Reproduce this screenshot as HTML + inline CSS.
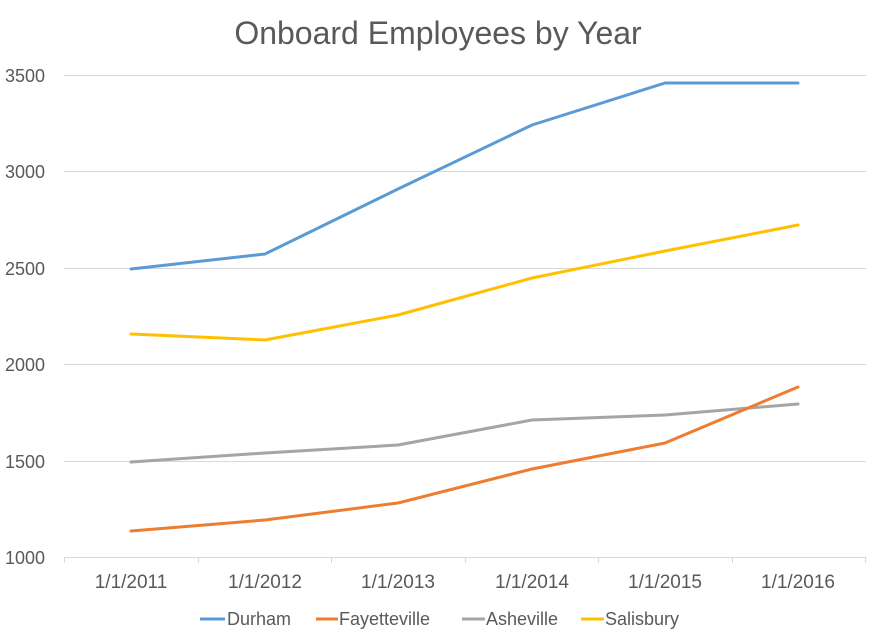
<!DOCTYPE html>
<html><head><meta charset="utf-8"><style>
body{margin:0;background:#fff}
svg text{font-family:"Liberation Sans",sans-serif;fill:#595959}
</style></head><body>
<svg width="880" height="636" viewBox="0 0 880 636" xmlns="http://www.w3.org/2000/svg">
<rect width="880" height="636" fill="#fff"/>
<text x="438" y="44" font-size="32" text-anchor="middle">Onboard Employees by Year</text>
<g stroke="#d9d9d9" stroke-width="1">
<line x1="64" x2="866" y1="75.5" y2="75.5"/>
<line x1="64" x2="866" y1="171.5" y2="171.5"/>
<line x1="64" x2="866" y1="268.5" y2="268.5"/>
<line x1="64" x2="866" y1="364.5" y2="364.5"/>
<line x1="64" x2="866" y1="461.5" y2="461.5"/>
<line x1="64" x2="866" y1="557.5" y2="557.5"/>
<line x1="64.5" x2="64.5" y1="557" y2="563"/>
<line x1="198.5" x2="198.5" y1="557" y2="563"/>
<line x1="331.5" x2="331.5" y1="557" y2="563"/>
<line x1="465.5" x2="465.5" y1="557" y2="563"/>
<line x1="598.5" x2="598.5" y1="557" y2="563"/>
<line x1="732.5" x2="732.5" y1="557" y2="563"/>
<line x1="865.5" x2="865.5" y1="557" y2="563"/>
</g>
<g font-size="18">
<text x="5" y="82">3500</text><text x="5" y="178">3000</text><text x="5" y="275">2500</text>
<text x="5" y="371">2000</text><text x="5" y="468">1500</text><text x="5" y="564">1000</text>
</g>
<g font-size="19" text-anchor="middle">
<text x="131" y="588">1/1/2011</text><text x="265" y="588">1/1/2012</text><text x="398" y="588">1/1/2013</text>
<text x="532" y="588">1/1/2014</text><text x="665" y="588">1/1/2015</text><text x="798" y="588">1/1/2016</text>
</g>
<g fill="none" stroke-width="3" stroke-linejoin="round" stroke-linecap="round">
<polyline stroke="#5b9bd5" points="131,269 265,254 398,189 532,125 665,83 798,83"/>
<polyline stroke="#ffc000" points="131,334 265,340 398,315 532,278 665,251 798,225"/>
<polyline stroke="#a5a5a5" points="131,462 265,453 398,445 532,420 665,415 798,404"/>
<polyline stroke="#ed7d31" points="131,531 265,520 398,503 532,469 665,443 798,387"/>
</g>
<g stroke-width="3">
<line x1="200" x2="225" y1="619" y2="619" stroke="#5b9bd5"/>
<line x1="316" x2="338" y1="619" y2="619" stroke="#ed7d31"/>
<line x1="462" x2="485" y1="619" y2="619" stroke="#a5a5a5"/>
<line x1="581" x2="604" y1="619" y2="619" stroke="#ffc000"/>
</g>
<g font-size="18">
<text x="227" y="625">Durham</text><text x="339" y="625">Fayetteville</text>
<text x="486" y="625">Asheville</text><text x="605" y="625">Salisbury</text>
</g>
</svg>
</body></html>
